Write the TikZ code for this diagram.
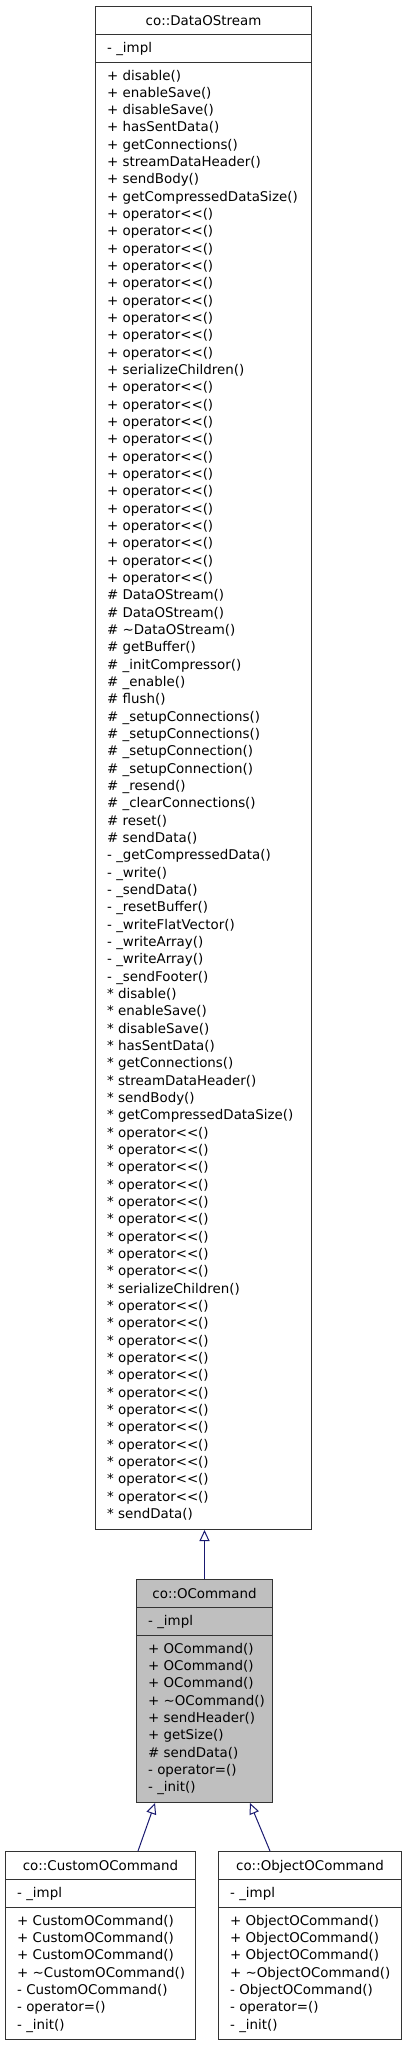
\documentclass[tikz,border=0pt]{standalone}
\usepackage{fontspec}
\setmainfont{DejaVu Sans}
\usetikzlibrary{arrows.meta,calc}
\definecolor{edgeblue}{HTML}{191970}
\definecolor{boxgray}{HTML}{BFBFBF}
\definecolor{boxline}{HTML}{333333}
\def\opl{operator<\kern0pt<()}
\tikzset{
  classbox/.style={draw=boxline, line width=1pt, rectangle, inner sep=0pt, anchor=north west},
  divider/.style={draw=boxline, line width=1pt},
  member/.style={anchor=base west, inner sep=0pt, font=\fontsize{13.4}{16}\selectfont},
  classtitle/.style={anchor=base, inner sep=0pt, font=\fontsize{13.4}{16}\selectfont},
  inherit/.style={draw=edgeblue, line width=1pt, -{Triangle[open,length=11pt,width=10pt]}}
}
\begin{document}
\begin{tikzpicture}[x=1pt,y=-1pt]
\useasboundingbox (0,0) rectangle (405,2045);

% ---------- co::DataOStream ----------
\node[classbox, fill=white, minimum width=216pt, minimum height=1523pt] (dos) at (95,6) {};
\draw[divider] ($(dos.north west)+(0,28)$) -- ($(dos.north east)+(0,28)$);
\draw[divider] ($(dos.north west)+(0,56)$) -- ($(dos.north east)+(0,56)$);
\node[classtitle] (dost) at ($(dos.north)+(0,19)$) {co::DataOStream};
\node[member] (dosa) at ($(dos.north west)+(12,46)$) {- \_impl};
\foreach \m [count=\i from 0] in {
 {+ disable()},{+ enableSave()},{+ disableSave()},{+ hasSentData()},{+ getConnections()},
 {+ streamDataHeader()},{+ sendBody()},{+ getCompressedDataSize()},
 {+ \opl},{+ \opl},{+ \opl},{+ \opl},{+ \opl},{+ \opl},{+ \opl},{+ \opl},{+ \opl},
 {+ serializeChildren()},
 {+ \opl},{+ \opl},{+ \opl},{+ \opl},{+ \opl},{+ \opl},{+ \opl},{+ \opl},{+ \opl},{+ \opl},{+ \opl},{+ \opl},
 {\# DataOStream()},{\# DataOStream()},{\# \textasciitilde DataOStream()},{\# getBuffer()},
 {\# \_initCompressor()},{\# \_enable()},{\# flush()},{\# \_setupConnections()},{\# \_setupConnections()},
 {\# \_setupConnection()},{\# \_setupConnection()},{\# \_resend()},{\# \_clearConnections()},
 {\# reset()},{\# sendData()},
 {- \_getCompressedData()},{- \_write()},{- \_sendData()},{- \_resetBuffer()},{- \_writeFlatVector()},
 {- \_writeArray()},{- \_writeArray()},{- \_sendFooter()},
 {* disable()},{* enableSave()},{* disableSave()},{* hasSentData()},{* getConnections()},
 {* streamDataHeader()},{* sendBody()},{* getCompressedDataSize()},
 {* \opl},{* \opl},{* \opl},{* \opl},{* \opl},{* \opl},{* \opl},{* \opl},{* \opl},
 {* serializeChildren()},
 {* \opl},{* \opl},{* \opl},{* \opl},{* \opl},{* \opl},{* \opl},{* \opl},{* \opl},{* \opl},{* \opl},{* \opl},
 {* sendData()}}
 \node[member] (dosm\i) at ($(dos.north west)+(12,74+17.33*\i)$) {\m};

% ---------- co::OCommand ----------
\node[classbox, fill=boxgray, minimum width=136pt, minimum height=223pt] (ocmd) at (136,1579) {};
\draw[divider] ($(ocmd.north west)+(0,28)$) -- ($(ocmd.north east)+(0,28)$);
\draw[divider] ($(ocmd.north west)+(0,56)$) -- ($(ocmd.north east)+(0,56)$);
\node[classtitle] (ocmdt) at ($(ocmd.north)+(0,19)$) {co::OCommand};
\node[member] (ocmda) at ($(ocmd.north west)+(12,46)$) {- \_impl};
\foreach \m [count=\i from 0] in {
 {+ OCommand()},{+ OCommand()},{+ OCommand()},{+ \textasciitilde OCommand()},{+ sendHeader()},
 {+ getSize()},{\# sendData()},{- operator=()},{- \_init()}}
 \node[member] (ocmdm\i) at ($(ocmd.north west)+(12,74+17.33*\i)$) {\m};

% ---------- co::CustomOCommand ----------
\node[classbox, fill=white, minimum width=190pt, minimum height=188pt] (cust) at (5,1851) {};
\draw[divider] ($(cust.north west)+(0,28)$) -- ($(cust.north east)+(0,28)$);
\draw[divider] ($(cust.north west)+(0,56)$) -- ($(cust.north east)+(0,56)$);
\node[classtitle] (custt) at ($(cust.north)+(0,19)$) {co::CustomOCommand};
\node[member] (custa) at ($(cust.north west)+(12,46)$) {- \_impl};
\foreach \m [count=\i from 0] in {
 {+ CustomOCommand()},{+ CustomOCommand()},{+ CustomOCommand()},{+ \textasciitilde CustomOCommand()},
 {- CustomOCommand()},{- operator=()},{- \_init()}}
 \node[member] (custm\i) at ($(cust.north west)+(12,74+17.33*\i)$) {\m};

% ---------- co::ObjectOCommand ----------
\node[classbox, fill=white, minimum width=183pt, minimum height=188pt] (obj) at (218,1851) {};
\draw[divider] ($(obj.north west)+(0,28)$) -- ($(obj.north east)+(0,28)$);
\draw[divider] ($(obj.north west)+(0,56)$) -- ($(obj.north east)+(0,56)$);
\node[classtitle] (objt) at ($(obj.north)+(0,19)$) {co::ObjectOCommand};
\node[member] (obja) at ($(obj.north west)+(12,46)$) {- \_impl};
\foreach \m [count=\i from 0] in {
 {+ ObjectOCommand()},{+ ObjectOCommand()},{+ ObjectOCommand()},{+ \textasciitilde ObjectOCommand()},
 {- ObjectOCommand()},{- operator=()},{- \_init()}}
 \node[member] (objm\i) at ($(obj.north west)+(12,74+17.33*\i)$) {\m};

% ---------- inheritance ----------
\draw[inherit] (ocmd.north) -- (ocmd.north |- dos.south);
\draw[inherit] ($(cust.north west)+(133,0)$) -- ($(ocmd.south west)+(19,0)$);
\draw[inherit] ($(obj.north west)+(52,0)$) -- ($(ocmd.south west)+(114,0)$);
\end{tikzpicture}
\end{document}
